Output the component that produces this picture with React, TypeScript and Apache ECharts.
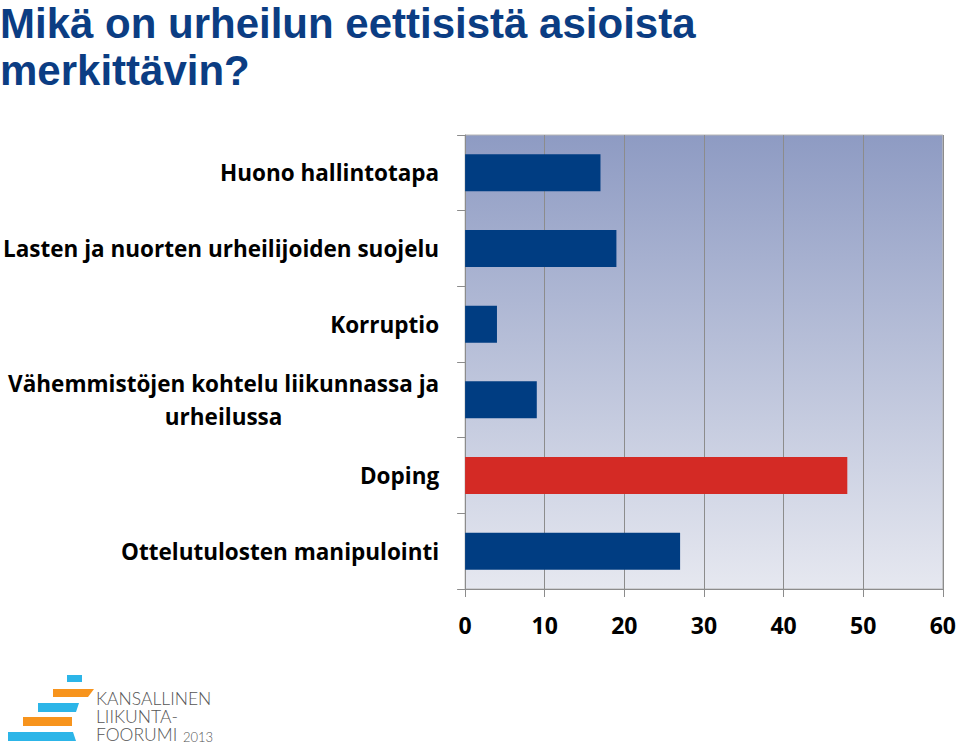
import React, { useEffect, useRef } from "react";
import * as echarts from "echarts";

const categories = [
  "Huono hallintotapa",
  "Lasten ja nuorten urheilijoiden suojelu",
  "Korruptio",
  "Vähemmistöjen kohtelu liikunnassa ja\nurheilussa",
  "Doping",
  "Ottelutulosten manipulointi",
];
const values = [17, 19, 4, 9, 48, 27];
const highlight = [false, false, false, false, true, false];
const xTicks = [0, 10, 20, 30, 40, 50, 60];
const titleLines = ["Mikä on urheilun eettisistä asioista", "merkittävin?"];
const logoLines = ["KANSALLINEN", "LIIKUNTA-", "FOORUMI"];
const logoYear = "2013";

export default function App() {
  const ref = useRef<HTMLDivElement>(null);
  useEffect(() => {
    document.body.style.margin = "0";
    const chart = echarts.init(ref.current!, null, { renderer: "svg" });
    const labelFont = "'Open Sans', 'Noto Sans', sans-serif";
    chart.setOption({
      animation: false,
      backgroundColor: "#ffffff",
      title: {
        text: titleLines.join("\n"),
        left: 0,
        top: 0,
        padding: 0,
        textStyle: {
          fontFamily: "'Liberation Sans Narrow', 'Liberation Sans', sans-serif",
          fontWeight: "bold",
          fontSize: 42,
          lineHeight: 47,
          color: "#0b3d83",
        },
      },
      grid: {
        left: 463,
        right: 16,
        top: 135,
        bottom: 158,
        show: true,
        borderColor: "#b5b5b5",
        borderWidth: 1,
        backgroundColor: {
          type: "linear",
          x: 0,
          y: 0,
          x2: 0,
          y2: 1,
          colorStops: [
            { offset: 0, color: "#8e9bc3" },
            { offset: 1, color: "#e6e8f0" },
          ],
        },
      },
      xAxis: {
        type: "value",
        min: xTicks[0],
        max: xTicks[xTicks.length - 1],
        interval: 10,
        axisLine: { show: true, lineStyle: { color: "#8c8c8c" } },
        axisTick: { show: true, length: 8, lineStyle: { color: "#8c8c8c" } },
        splitLine: { show: true, lineStyle: { color: "#8c8c8c", width: 1 } },
        axisLabel: {
          margin: 24,
          fontFamily: labelFont,
          fontWeight: "bold",
          fontSize: 23,
          color: "#000",
        },
      },
      yAxis: {
        type: "category",
        inverse: true,
        data: categories,
        axisLine: { show: true, lineStyle: { color: "#8c8c8c" } },
        axisTick: { show: true, length: 8, lineStyle: { color: "#8c8c8c" } },
        axisLabel: {
          margin: 26,
          fontFamily: labelFont,
          fontWeight: "bold",
          fontSize: 22.5,
          color: "#000",
          lineHeight: 33,
          formatter: (v: string) =>
            v
              .split("\n")
              .map((l) => "{c|" + l + "}")
              .join("\n"),
          rich: {
            c: {
              align: "center",
              fontFamily: labelFont,
              fontWeight: "bold",
              fontSize: 22.5,
              color: "#000",
              lineHeight: 33,
            },
          },
        },
      },
      series: [
        {
          type: "bar",
          barWidth: 37,
          data: values.map((v, i) => ({
            value: v,
            itemStyle: { color: highlight[i] ? "#d42a25" : "#003d82" },
          })),
        },
      ],
      graphic: [
        { type: "rect", shape: { x: 67, y: 675, width: 15, height: 7 }, style: { fill: "#2cb5e8" } },
        { type: "polygon", shape: { points: [[53, 689], [94, 689], [88, 697], [53, 697]] }, style: { fill: "#f7941d" } },
        { type: "polygon", shape: { points: [[38, 703], [79, 703], [76, 712], [38, 712]] }, style: { fill: "#2cb5e8" } },
        { type: "rect", shape: { x: 23, y: 717, width: 49, height: 9 }, style: { fill: "#f7941d" } },
        { type: "polygon", shape: { points: [[8, 732], [73, 732], [76, 741], [8, 741]] }, style: { fill: "#2cb5e8" } },
        {
          type: "text",
          x: 96,
          y: 689,
          style: {
            text: logoLines.join("\n"),
            fill: "#555",
            lineHeight: 18,
            font: "300 17.5px Lato, 'Noto Sans', sans-serif",
          },
        },
        {
          type: "text",
          x: 183,
          y: 730,
          style: { text: logoYear, fill: "#555", font: "300 13px Lato, 'Noto Sans', sans-serif" },
        },
      ],
    });
    return () => chart.dispose();
  }, []);
  return <div ref={ref} style={{ width: 959, height: 747 }} />;
}
